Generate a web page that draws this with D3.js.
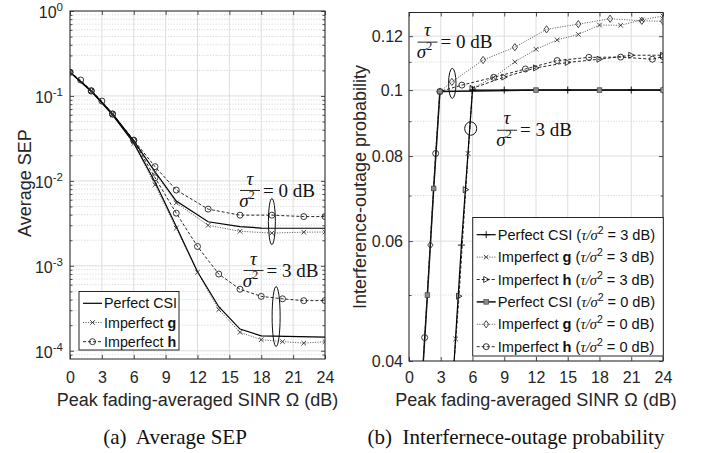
<!DOCTYPE html>
<html>
<head>
<meta charset="utf-8">
<script src="https://cdn.jsdelivr.net/npm/d3@7"></script>
<style>
  body { margin: 0; background: #fff; }
  svg { display: block; }
</style>
</head>
<body>
<svg id="fig" width="701" height="453"></svg>
<script>
// ---- data ------------------------------------------------------------
const xTicks = [0, 3, 6, 9, 12, 15, 18, 21, 24];

// (a) average SEP, [Omega dB, SEP]
const sepTicks = [1e-4, 1e-3, 1e-2, 1e-1, 1];
const sepTickExp = ['-4', '-3', '-2', '-1', '0'];
const sepPerfect0 = [[0, 0.19], [2, 0.115], [4, 0.062], [6, 0.0295], [8, 0.0128], [10, 0.0058], [13, 0.0033], [16, 0.0029], [18, 0.00278], [24, 0.00277]];
const sepImpG0 = [[0, 0.19], [2, 0.115], [4, 0.062], [6, 0.0292], [8, 0.0126], [10, 0.0055], [13, 0.0030], [16, 0.00255], [19, 0.00243], [22, 0.00249], [24, 0.0025]];
const sepImpH0 = [[0, 0.19], [1, 0.154], [2, 0.1155], [3, 0.087], [4, 0.0615], [6, 0.0302], [8, 0.0147], [10, 0.0078], [13, 0.00465], [16, 0.00395], [19, 0.00395], [22, 0.0038], [24, 0.0038]];
const sepPerfect3 = [[0, 0.19], [2, 0.113], [4, 0.06], [6, 0.028], [8, 0.0097], [10, 0.0029], [12, 0.00085], [14, 0.00033], [16, 0.00018], [18, 0.00015], [24, 0.000145]];
const sepImpG3 = [[0, 0.19], [2, 0.113], [4, 0.06], [6, 0.0275], [8, 0.009], [10, 0.00277], [12, 0.00084], [14, 0.000305], [16, 0.000165], [18, 0.000135], [20, 0.000128], [22, 0.000123], [24, 0.000128]];
const sepImpH3 = [[0, 0.19], [2, 0.114], [4, 0.061], [6, 0.0298], [8, 0.0109], [10, 0.00417], [12, 0.00169], [14, 0.0008], [16, 0.00053], [18, 0.000437], [20, 0.000409], [22, 0.000389], [24, 0.00039]];

// (b) interference-outage probability, [Omega dB, P]
const outTicks = [0.04, 0.06, 0.08, 0.1, 0.12];
const outTickLabels = ['0.04', '0.06', '0.08', '0.1', '0.12'];
const outMinor = [0.05, 0.07, 0.09, 0.11];
const outPerfect3 = [[4.22, 0.039], [4.95, 0.0592], [6, 0.1], [9, 0.1], [15, 0.1], [21, 0.1], [24, 0.1]];
const outImpG3 = [[4.22, 0.039], [4.41, 0.0431], [5.58, 0.0807], [6, 0.1006], [8, 0.1044], [10, 0.110], [12, 0.1148], [14, 0.1185], [16, 0.1207], [18, 0.1246], [20, 0.1245], [22, 0.1268], [24, 0.1285]];
const outImpH3 = [[4.22, 0.039], [4.73, 0.0498], [5.36, 0.0714], [6, 0.1006], [9, 0.1045], [12, 0.1078], [15, 0.1098], [18, 0.111], [21, 0.1125], [24, 0.1125]];
const outPerfect0 = [[1.31, 0.039], [1.74, 0.050], [2.33, 0.0717], [2.92, 0.0995], [12, 0.1], [18, 0.1], [24, 0.1]];
const outImpG0 = [[1.31, 0.039], [2.02, 0.0592], [2.92, 0.0995], [4.05, 0.1028], [7, 0.1107], [10, 0.1156], [13, 0.1228], [16, 0.125], [19, 0.1273], [22, 0.1264], [24, 0.1262]];
const outImpH0 = [[1.31, 0.039], [1.48, 0.0433], [2.52, 0.0807], [2.92, 0.0995], [5, 0.1017], [8, 0.1044], [11, 0.1074], [14, 0.1105], [17, 0.1117], [20, 0.1118], [23, 0.111], [24, 0.112]];

// ---- styles ----------------------------------------------------------
const SANS = '"Liberation Sans", Arial, Helvetica, sans-serif';
const SERIF = '"Liberation Serif", "Times New Roman", serif';
const AXIS = '#262626';
const GRID = '#dedede';
const MINOR_GRID = '#cfcfcf';

const solid = { stroke: '#000', width: 1.2, dash: null, mstroke: '#000' };
const solidThick = { stroke: '#111', width: 1.5, dash: null, mstroke: '#333' };
const dotted = { stroke: '#5a5a5a', width: 0.9, dash: '1.2,1.3', mstroke: '#333' };
const dashed = { stroke: '#111', width: 0.9, dash: '3,2', mstroke: '#222' };

const fig = d3.select('#fig');
const defs = fig.append('defs');

function drawMarker(g, type, px, py, st) {
    const w = 0.9;
    if (type === 'o') {
        g.append('circle').attr('cx', px).attr('cy', py).attr('r', 3)
            .attr('fill', 'none').attr('stroke', st.mstroke).attr('stroke-width', w);
    } else if (type === 'x') {
        g.append('path')
            .attr('d', `M${px - 2.3},${py - 2.3}L${px + 2.3},${py + 2.3}M${px - 2.3},${py + 2.3}L${px + 2.3},${py - 2.3}`)
            .attr('stroke', st.mstroke).attr('stroke-width', w);
    } else if (type === '+') {
        g.append('path')
            .attr('d', `M${px - 3.5},${py}H${px + 3.5}M${px},${py - 3.5}V${py + 3.5}`)
            .attr('stroke', st.mstroke).attr('stroke-width', w);
    } else if (type === 's') {
        g.append('rect').attr('x', px - 2.3).attr('y', py - 2.3).attr('width', 4.6).attr('height', 4.6)
            .attr('fill', '#8a8a8a').attr('stroke', '#444').attr('stroke-width', 0.7);
    } else if (type === 'd') {
        g.append('path')
            .attr('d', `M${px},${py - 3.6}L${px + 2.6},${py}L${px},${py + 3.6}L${px - 2.6},${py}Z`)
            .attr('fill', 'none').attr('stroke', st.mstroke).attr('stroke-width', w);
    } else if (type === '>') {
        g.append('path')
            .attr('d', `M${px + 3},${py}L${px - 2.5},${py - 3}L${px - 2.5},${py + 3}Z`)
            .attr('fill', 'none').attr('stroke', st.mstroke).attr('stroke-width', w);
    }
}

function styleLine(sel, st) {
    sel.attr('fill', 'none').attr('stroke', st.stroke).attr('stroke-width', st.width)
        .attr('stroke-dasharray', st.dash);
}

function makePanel(opt) {
    const x = d3.scaleLinear().domain([0, 24]).range([opt.left, opt.right]);
    const y = d3.scaleLog().domain(opt.yDomain).range([opt.bottom, opt.top]);
    const g = fig.append('g');

    defs.append('clipPath').attr('id', opt.id + '-clip')
        .append('rect')
        .attr('x', opt.left).attr('y', opt.top)
        .attr('width', opt.right - opt.left).attr('height', opt.bottom - opt.top);

    // minor grid (dotted), then major grid
    g.append('g').selectAll('line').data(opt.yMinor).join('line')
        .attr('x1', opt.left).attr('x2', opt.right)
        .attr('y1', d => y(d)).attr('y2', d => y(d))
        .attr('stroke', MINOR_GRID).attr('stroke-width', 0.8).attr('stroke-dasharray', '1.2,1.6');
    g.append('g').selectAll('line').data(opt.yTicks).join('line')
        .attr('x1', opt.left).attr('x2', opt.right)
        .attr('y1', d => y(d)).attr('y2', d => y(d))
        .attr('stroke', GRID).attr('stroke-width', 1);
    g.append('g').selectAll('line').data(xTicks).join('line')
        .attr('x1', d => x(d)).attr('x2', d => x(d))
        .attr('y1', opt.top).attr('y2', opt.bottom)
        .attr('stroke', GRID).attr('stroke-width', 1);

    // axes: ticks inside on all four sides
    const bottom = g.append('g').attr('transform', `translate(0,${opt.bottom})`)
        .call(d3.axisBottom(x).tickValues(xTicks).tickSizeInner(-4).tickSizeOuter(0).tickPadding(opt.xPad));
    g.append('g').attr('transform', `translate(0,${opt.top})`)
        .call(d3.axisTop(x).tickValues(xTicks).tickSizeInner(-4).tickSizeOuter(0).tickFormat(''));
    const left = g.append('g').attr('transform', `translate(${opt.left},0)`)
        .call(d3.axisLeft(y).tickValues(opt.yTicks).tickSizeInner(-4).tickSizeOuter(0).tickPadding(opt.yPad));
    g.append('g').attr('transform', `translate(${opt.right},0)`)
        .call(d3.axisRight(y).tickValues(opt.yTicks).tickSizeInner(-4).tickSizeOuter(0).tickFormat(''));
    g.append('g').attr('transform', `translate(${opt.left},0)`)
        .call(d3.axisLeft(y).tickValues(opt.yMinor).tickSizeInner(-2.5).tickSizeOuter(0).tickFormat(''));
    g.append('g').attr('transform', `translate(${opt.right},0)`)
        .call(d3.axisRight(y).tickValues(opt.yMinor).tickSizeInner(-2.5).tickSizeOuter(0).tickFormat(''));

    g.selectAll('.domain').remove();
    g.selectAll('.tick line').attr('stroke', AXIS).attr('stroke-width', 0.8);
    g.selectAll('.tick text').attr('fill', '#262626').attr('font-family', SANS).attr('font-size', 16);
    bottom.selectAll('.tick text').attr('dy', '0.72em');

    left.selectAll('.tick text').each(function (d, i) {
        const t = d3.select(this);
        opt.yLabel(t, i);
    });

    // axes box
    g.append('rect')
        .attr('x', opt.left).attr('y', opt.top)
        .attr('width', opt.right - opt.left).attr('height', opt.bottom - opt.top)
        .attr('fill', 'none').attr('stroke', AXIS).attr('stroke-width', 1);

    const plot = fig.append('g').attr('clip-path', `url(#${opt.id}-clip)`);
    const marks = fig.append('g');

    // axis titles
    fig.append('text')
        .attr('x', (opt.left + opt.right) / 2).attr('y', 406)
        .attr('text-anchor', 'middle').attr('font-family', SANS).attr('font-size', 18).attr('fill', '#262626')
        .text('Peak fading-averaged SINR \u03A9 (dB)');
    fig.append('text')
        .attr('transform', `translate(${opt.yTitleX},${opt.yTitleY}) rotate(-90)`)
        .attr('text-anchor', 'middle').attr('font-family', SANS).attr('font-size', 18).attr('fill', '#262626')
        .text(opt.yTitle);
    fig.append('text')
        .attr('x', opt.captionX).attr('y', 444)
        .attr('text-anchor', 'middle').attr('font-family', SERIF).attr('font-size', 21).attr('fill', '#111')
        .attr('xml:space', 'preserve')
        .text(opt.caption);

    return { x, y, plot, marks, opt };
}

function drawSeries(p, data, st, marker) {
    const line = d3.line().x(d => p.x(d[0])).y(d => p.y(d[1]));
    p.plot.append('path').datum(data).attr('d', line).call(styleLine, st);
    if (marker) {
        const mg = p.marks.append('g').attr('clip-path', `url(#${p.opt.id}-clip)`);
        data.forEach(d => drawMarker(mg, marker, p.x(d[0]), p.y(d[1]), st));
    }
}

// fraction label tau / sigma^2 = N dB, anchored at the fraction bar
function drawFraction(p, note) {
    const cx = p.x(note.x);
    const cy = p.y(note.y);
    const g = fig.append('g').attr('font-family', SERIF).attr('fill', '#111');
    g.append('text').attr('x', cx).attr('y', cy - 6).attr('text-anchor', 'middle')
        .attr('font-size', 19).attr('font-style', 'italic').text('\u03C4');
    g.append('line').attr('x1', cx - 10).attr('x2', cx + 10).attr('y1', cy).attr('y2', cy)
        .attr('stroke', '#111').attr('stroke-width', 0.9);
    const s = g.append('text').attr('x', cx - 3).attr('y', cy + 16).attr('text-anchor', 'middle')
        .attr('font-size', 19);
    s.append('tspan').attr('font-style', 'italic').text('\u03C3');
    s.append('tspan').attr('font-size', 12).attr('dy', -8).text('2');
    g.append('text').attr('x', cx + 13).attr('y', cy + 6).attr('font-size', 19)
        .attr('xml:space', 'preserve').text(note.text);
}

function drawRing(p, ring) {
    fig.append('ellipse')
        .attr('cx', p.x(ring.x)).attr('cy', p.y(ring.y))
        .attr('rx', ring.rx).attr('ry', ring.ry)
        .attr('fill', 'none').attr('stroke', '#111').attr('stroke-width', 1);
}

function drawLegend(box, rows) {
    const g = fig.append('g');
    g.append('rect').attr('x', box.x).attr('y', box.y).attr('width', box.w).attr('height', box.h)
        .attr('fill', '#fff').attr('stroke', AXIS).attr('stroke-width', 1);
    rows.forEach((r, i) => {
        const cy = box.row0 + i * box.step;
        g.append('line').attr('x1', box.x + 4).attr('x2', box.x + 23).attr('y1', cy).attr('y2', cy)
            .call(styleLine, r.style);
        if (r.marker) drawMarker(g, r.marker, box.x + 13.5, cy, r.style);
        const t = g.append('text').attr('x', box.x + 25).attr('y', cy + 5)
            .attr('font-family', SANS).attr('font-size', box.font).attr('fill', '#111')
            .attr('xml:space', 'preserve');
        r.label.forEach(part => {
            const ts = t.append('tspan').text(part.t);
            if (part.b) ts.attr('font-weight', 'bold');
            if (part.m) ts.attr('font-family', SERIF).attr('font-style', 'italic');
            if (part.sup) ts.attr('font-size', box.font * 0.72).attr('dy', -6);
            if (part.down) ts.attr('dy', 6);
        });
    });
}

// ---- panel (a) -------------------------------------------------------
const pa = makePanel({
    id: 'pa', left: 70, right: 325, top: 11, bottom: 359,
    yDomain: [8e-5, 1], yTicks: sepTicks,
    yMinor: d3.scaleLog().domain([8e-5, 1]).ticks().filter(v => v > 8.01e-5 && !sepTicks.some(t => Math.abs(t - v) / t < 1e-6)),
    xPad: 12, yPad: 7,
    yLabel: (t, i) => {
        t.text(null).attr('dy', '0.42em');
        t.append('tspan').text('10');
        t.append('tspan').attr('font-size', 11.5).attr('dy', -7).text(sepTickExp[i]);
    },
    yTitle: 'Average SEP', yTitleX: 31, yTitleY: 183,
    caption: '(a)  Average SEP', captionX: 175
});

drawSeries(pa, sepImpH0, dashed, 'o');
drawSeries(pa, sepImpH3, dashed, 'o');
drawSeries(pa, sepImpG0, dotted, 'x');
drawSeries(pa, sepImpG3, dotted, 'x');
drawSeries(pa, sepPerfect0, solid, null);
drawSeries(pa, sepPerfect3, solid, null);

drawFraction(pa, { x: 16.94, y: 7.7e-3, text: '= 0 dB' });
drawFraction(pa, { x: 17.27, y: 8.8e-4, text: '= 3 dB' });
drawRing(pa, { x: 19.0, y: 3.32e-3, rx: 3.5, ry: 23 });
drawRing(pa, { x: 19.4, y: 2.53e-4, rx: 4, ry: 30 });

drawLegend({ x: 79, y: 291.5, w: 100, h: 58.5, row0: 303.3, step: 19.2, font: 14.3 }, [
    { style: solid, marker: null, label: [{ t: 'Perfect CSI' }] },
    { style: dotted, marker: 'x', label: [{ t: 'Imperfect ' }, { t: 'g', b: true }] },
    { style: dashed, marker: 'o', label: [{ t: 'Imperfect ' }, { t: 'h', b: true }] }
]);

// ---- panel (b) -------------------------------------------------------
const pb = makePanel({
    id: 'pb', left: 409, right: 663, top: 12.5, bottom: 361,
    yDomain: [0.04, 0.13], yTicks: outTicks, yMinor: outMinor,
    xPad: 10, yPad: 6,
    yLabel: (t, i) => t.text(outTickLabels[i]),
    yTitle: 'Interference-outage probability', yTitleX: 366, yTitleY: 187,
    caption: '(b)  Interfernece-outage probability', captionX: 516
});

drawSeries(pb, outImpH0, dashed, 'o');
drawSeries(pb, outImpH3, dashed, '>');
drawSeries(pb, outImpG0, dotted, 'd');
drawSeries(pb, outImpG3, dotted, 'x');
drawSeries(pb, outPerfect3, solid, '+');
drawSeries(pb, outPerfect0, solidThick, 's');

drawFraction(pb, { x: 1.75, y: 0.1176, text: '= 0 dB' });
drawFraction(pb, { x: 9.26, y: 0.0873, text: '= 3 dB' });
drawRing(pb, { x: 4.09, y: 0.1023, rx: 3.7, ry: 15 });
drawRing(pb, { x: 5.83, y: 0.0878, rx: 6, ry: 6.7 });

const tauSig = (db) => [
    { t: ' (' }, { t: '\u03C4/\u03C3', m: true }, { t: '2', sup: true }, { t: ' = ' + db + ' dB)', down: true }
];
drawLegend({ x: 472.7, y: 217.5, w: 190.6, h: 138.5, row0: 234.7, step: 22.4, font: 14.6 }, [
    { style: solid, marker: '+', label: [{ t: 'Perfect CSI' }, ...tauSig(3)] },
    { style: dotted, marker: 'x', label: [{ t: 'Imperfect ' }, { t: 'g', b: true }, ...tauSig(3)] },
    { style: dashed, marker: '>', label: [{ t: 'Imperfect ' }, { t: 'h', b: true }, ...tauSig(3)] },
    { style: solidThick, marker: 's', label: [{ t: 'Perfect CSI' }, ...tauSig(0)] },
    { style: dotted, marker: 'd', label: [{ t: 'Imperfect ' }, { t: 'g', b: true }, ...tauSig(0)] },
    { style: dashed, marker: 'o', label: [{ t: 'Imperfect ' }, { t: 'h', b: true }, ...tauSig(0)] }
]);
</script>
</body>
</html>
